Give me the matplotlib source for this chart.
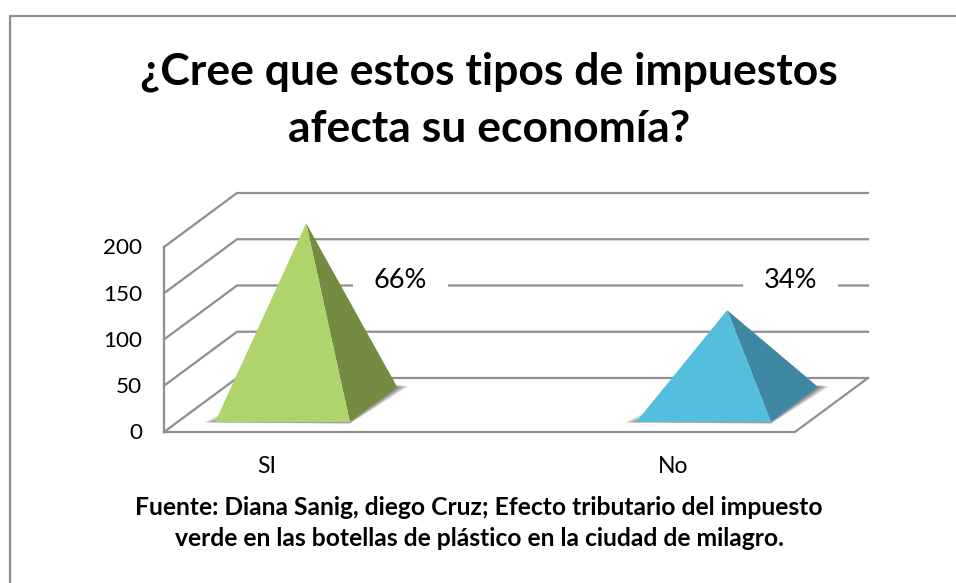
import matplotlib
matplotlib.use("Agg")
import matplotlib.pyplot as plt
from matplotlib.patches import Polygon, Rectangle
from matplotlib.lines import Line2D

plt.rcParams['font.family'] = ['Lato', 'DejaVu Sans']

# Data
categories = ["SI", "No"]
values = [196, 102]
percent_labels = ["66%", "34%"]
y_ticks = [0, 50, 100, 150, 200]

title = "¿Cree que estos tipos de impuestos\nafecta su economía?"
source = ("Fuente: Diana Sanig, diego Cruz; Efecto tributario del impuesto\n"
          "verde en las botellas de plástico en la ciudad de milagro.")

W, H = 956, 583
GRID = "#8f8f8f"
front_colors = ["#b0d46c", "#53bedd"]
side_colors = ["#748c42", "#3f88a3"]

fig = plt.figure(figsize=(W / 100, H / 100), dpi=100)

# frame of the chart
fig.add_artist(Line2D([10 / W, 10 / W, 1], [0, 1 - 15.5 / H, 1 - 15.5 / H],
                      color=GRID, lw=1.6, transform=fig.transFigure))

# axes = the front plane of the fake 3d box
left, right, bottom, top = 164, 795, 432, 247
ax = fig.add_axes([left / W, 1 - bottom / H, (right - left) / W, (bottom - top) / H])
x_per_px = 1 / 421
ax.set_xlim(-(269 - left) * x_per_px, 1 + (right - 690) * x_per_px)
ax.set_ylim(0, 200)
ax.patch.set_visible(False)
ax.set_xticks([])
ax.set_yticks([])
for s in ax.spines.values():
    s.set_visible(False)

# depth of the box in data units
dx = 73 * x_per_px
dy = 54 / 0.925


def proj(x, v, d):
    return (x + d * dx, v + d * dy)


x0, x1 = ax.get_xlim()
for t in y_ticks:
    ax.plot([x0, x0 + dx, x1 + dx], [t, t + dy, t + dy], color=GRID, lw=1.6,
            clip_on=False, solid_joinstyle="miter", zorder=1)
# left wall edge and floor
ax.plot([x0, x0], [0, 200], color=GRID, lw=1.6, clip_on=False, zorder=1)
ax.plot([x0, x1, x1 + dx], [0, 0, dy], color=GRID, lw=1.6, clip_on=False, zorder=1)

# pyramids
half_w = 0.16
d_front, d_back = 0.185, 0.833
d_mid = (d_front + d_back) / 2
for i, v in enumerate(values):
    fl = proj(i - half_w, 0, d_front)
    fr = proj(i + half_w, 0, d_front)
    br = proj(i + half_w, 0, d_back)
    apex = proj(i, v, d_mid)

    # soft shadow on the floor, built from a few see-through copies
    for grow in [1.0, 0.8, 0.6, 0.4, 0.2]:
        gx = 11 * x_per_px * grow
        gy = 2.0 * grow
        right_shadow = [(fr[0], fr[1] - gy), (br[0] + gx, br[1] + gy * 0.3),
                        (br[0], br[1] + gy * 1.2), fr]
        left_shadow = [(fl[0] - gx, fl[1] - gy * 0.3), (fr[0], fr[1] - gy),
                       fr, (fl[0] + 6 * x_per_px, fl[1] + 9 * grow)]
        for shadow in (right_shadow, left_shadow):
            ax.add_patch(Polygon(shadow, closed=True, fc="#000000", ec="none",
                                 alpha=0.11, clip_on=False, zorder=2))

    ax.add_patch(Polygon([fr, br, apex], closed=True, fc=side_colors[i], ec="none",
                         clip_on=False, zorder=3))
    ax.add_patch(Polygon([fl, fr, apex], closed=True, fc=front_colors[i], ec="none",
                         clip_on=False, zorder=4))

# percent labels sit at the same height on a white box
label_x = [0.312, 1.238]
label_half = 47.5 * x_per_px
label_y = 164
for i, txt in enumerate(percent_labels):
    ax.add_patch(Rectangle((label_x[i] - label_half, label_y - 10), 2 * label_half, 22,
                           fc="white", ec="none", clip_on=False, zorder=5))
    ax.text(label_x[i], label_y, txt, ha="center", va="center", fontsize=19.5,
            color="black", zorder=6, clip_on=False)

# y axis labels
for t in y_ticks:
    ax.text(x0 - 22 * x_per_px, t - 1.5, str(t), ha="right", va="center", fontsize=16.2, color="black")

# category labels
cat_x = [-0.005, -0.04]
for i, c in enumerate(categories):
    ax.text(i + cat_x[i], -37, c, ha="center", va="center", fontsize=16.5, color="black")

fig.text(489 / W, 1 - 100 / H, title, ha="center", va="center", fontsize=32,
         fontweight="bold", color="black", linespacing=1.5)
fig.text(479 / W, 1 - 523 / H, source, ha="center", va="center", fontsize=17.7,
         fontweight="bold", color="black", linespacing=1.45)

fig.savefig("out.png", dpi=100, facecolor="white")
